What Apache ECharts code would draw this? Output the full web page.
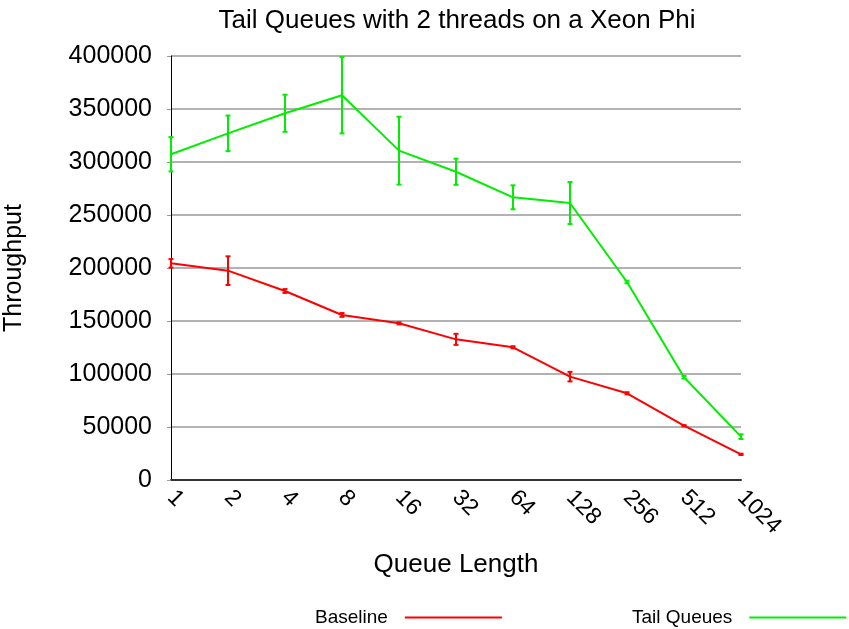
<!DOCTYPE html>
<html>
<head>
<meta charset="utf-8">
<script src="https://cdn.jsdelivr.net/npm/echarts@6/dist/echarts.min.js"></script>
<style>
  html, body { margin: 0; padding: 0; background: #fff; }
  #chart { width: 849px; height: 629px; }
</style>
</head>
<body>
<div id="chart"></div>
<script>
// Queue lengths tested
const queueLengths = ['1', '2', '4', '8', '16', '32', '64', '128', '256', '512', '1024'];

// Mean throughput per queue length
const baselineMean = [204400, 197500, 178300, 155700, 147800, 132700, 125200, 97500, 81800, 51200, 24200];
const tailMean     = [307300, 327000, 346000, 363000, 310700, 290800, 266700, 261300, 186800, 96900, 40900];

// Error bar half-widths
const baselineErr = [4000, 13500, 1800, 1800, 1000, 5200, 1000, 4500, 1000, 600, 600];
const tailErr     = [16200, 16800, 17500, 36000, 32000, 12300, 11300, 19800, 1200, 1200, 2200];

const yTicks = { min: 0, max: 400000, interval: 50000 };

const RED = '#ff0000';
const GREEN = '#00ee00';
const FONT = 'Liberation Sans';
const LINE_ICON = 'path://M0,0L100,0L100,2L0,2Z';

function errorData(mean, err) {
  return mean.map((m, i) => [i, m - err[i], m + err[i]]);
}

function renderErrorBar(color) {
  return function (params, api) {
    const x = api.value(0);
    const lo = api.coord([x, api.value(1)]);
    const hi = api.coord([x, api.value(2)]);
    const cap = 2.5;
    const style = { stroke: color, lineWidth: 2 };
    return {
      type: 'group',
      children: [
        { type: 'line', shape: { x1: lo[0], y1: lo[1], x2: hi[0], y2: hi[1] }, style },
        { type: 'line', shape: { x1: hi[0] - cap, y1: hi[1], x2: hi[0] + cap, y2: hi[1] }, style },
        { type: 'line', shape: { x1: lo[0] - cap, y1: lo[1], x2: lo[0] + cap, y2: lo[1] }, style }
      ]
    };
  };
}

function legendAt(left, name, color) {
  return {
    left: left,
    top: 608,
    align: 'right',
    itemWidth: 97,
    itemHeight: 14,
    padding: 0,
    textStyle: { fontFamily: FONT, fontSize: 19, color: '#000', padding: [0, 12, 0, 0] },
    data: [{ name: name, icon: LINE_ICON, itemStyle: { color: color } }]
  };
}

const chart = echarts.init(document.getElementById('chart'), null, { renderer: 'canvas' });

chart.setOption({
  animation: false,
  backgroundColor: '#ffffff',
  textStyle: { fontFamily: FONT },
  title: {
    text: 'Tail Queues with 2 threads on a Xeon Phi',
    left: 452,
    textAlign: 'center',
    top: 3,
    textStyle: { fontFamily: FONT, fontSize: 26, fontWeight: 'normal', color: '#000' }
  },
  grid: { left: 171, right: 108, top: 56, bottom: 149, containLabel: false, outerBoundsMode: 'none' },
  legend: [
    legendAt(315, 'Baseline', RED),
    legendAt(632, 'Tail Queues', GREEN)
  ],
  xAxis: {
    type: 'category',
    data: queueLengths,
    boundaryGap: false,
    name: 'Queue Length',
    nameLocation: 'middle',
    nameGap: 72,
    nameTextStyle: { fontFamily: FONT, fontSize: 26, color: '#000' },
    axisLine: { lineStyle: { color: '#333', width: 2 } },
    axisTick: { show: false },
    axisLabel: { rotate: -45, fontFamily: FONT, fontSize: 23, color: '#000', margin: 14 },
    splitLine: { show: false }
  },
  yAxis: {
    type: 'value',
    min: yTicks.min,
    max: yTicks.max,
    interval: yTicks.interval,
    name: 'Throughput',
    nameLocation: 'middle',
    nameGap: 144,
    nameTextStyle: { fontFamily: FONT, fontSize: 25, color: '#000' },
    axisLine: { show: true, lineStyle: { color: '#000', width: 1 } },
    axisTick: { show: true, length: 4, lineStyle: { color: '#999' } },
    axisLabel: { fontFamily: FONT, fontSize: 25, color: '#000', margin: 19, formatter: v => String(v) },
    splitLine: { show: true, lineStyle: { color: '#999', width: 1.5 } }
  },
  series: [
    {
      name: 'Baseline',
      type: 'line',
      data: baselineMean,
      showSymbol: false,
      symbol: 'none',
      lineStyle: { color: RED, width: 2 },
      itemStyle: { color: RED },
      z: 3
    },
    {
      name: 'Tail Queues',
      type: 'line',
      data: tailMean,
      showSymbol: false,
      symbol: 'none',
      lineStyle: { color: GREEN, width: 2 },
      itemStyle: { color: GREEN },
      z: 3
    },
    {
      name: 'Baseline error',
      type: 'custom',
      data: errorData(baselineMean, baselineErr),
      renderItem: renderErrorBar(RED),
      encode: { x: 0, y: [1, 2] },
      z: 4
    },
    {
      name: 'Tail Queues error',
      type: 'custom',
      data: errorData(tailMean, tailErr),
      renderItem: renderErrorBar(GREEN),
      encode: { x: 0, y: [1, 2] },
      z: 4
    }
  ]
});
</script>
</body>
</html>
